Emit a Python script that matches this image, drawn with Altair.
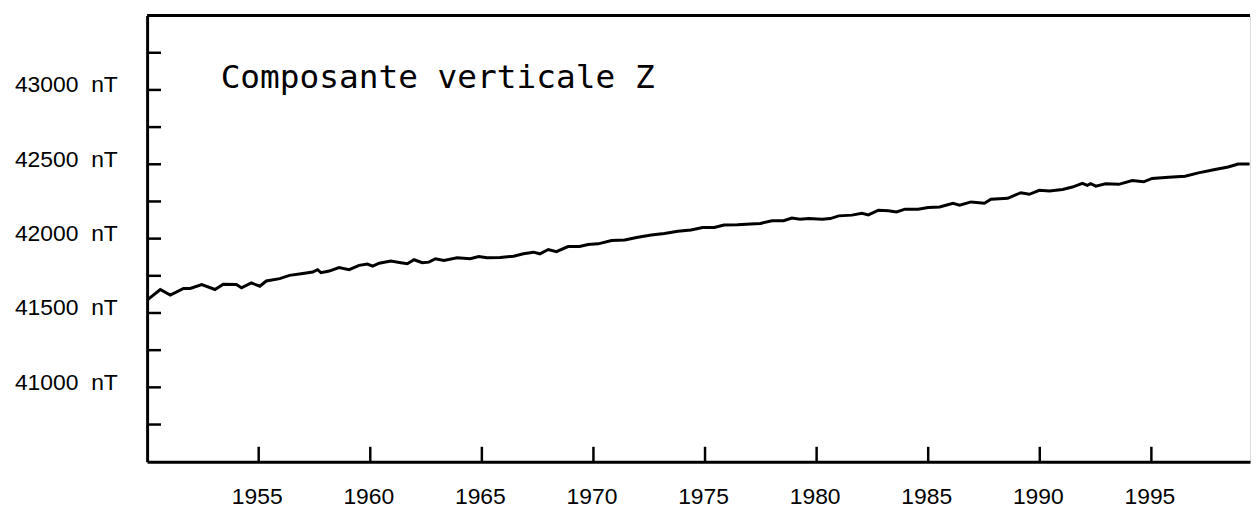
import altair as alt
import pandas as pd

# Series (year, Z in nT)
years = [1950.0, 1950.59, 1951.04, 1951.63, 1951.93, 1952.45, 1953.04, 1953.41, 1954.0, 1954.23,
         1954.67, 1955.05, 1955.34, 1955.94, 1956.38, 1956.98, 1957.42, 1957.64, 1957.79, 1958.16,
         1958.6, 1959.05, 1959.5, 1959.87, 1960.11, 1960.4, 1960.92, 1961.37, 1961.66, 1961.96,
         1962.33, 1962.63, 1962.92, 1963.3, 1963.89, 1964.48, 1964.86, 1965.23, 1965.82, 1966.42,
         1966.86, 1967.31, 1967.6, 1967.98, 1968.34, 1968.86, 1969.38, 1969.76, 1970.21, 1970.81,
         1971.4, 1971.99, 1972.59, 1973.18, 1973.78, 1974.37, 1974.89, 1975.41, 1975.85, 1976.45,
         1977.04, 1977.48, 1978.0, 1978.52, 1978.89, 1979.26, 1979.65, 1980.24, 1980.61, 1980.99,
         1981.58, 1982.03, 1982.32, 1982.77, 1983.21, 1983.58, 1983.96, 1984.55, 1985.0, 1985.51,
         1986.11, 1986.41, 1986.92, 1987.52, 1987.81, 1988.56, 1989.15, 1989.53, 1989.98, 1990.43,
         1991.02, 1991.46, 1991.91, 1992.13, 1992.28, 1992.51, 1992.95, 1993.54, 1994.14, 1994.66,
         1995.03, 1995.77, 1996.51, 1997.11, 1997.85, 1998.44, 1998.89, 1999.4]
z_values = [41587, 41658, 41620, 41665, 41665, 41691, 41658, 41693, 41691, 41669,
            41702, 41680, 41715, 41731, 41753, 41765, 41775, 41791, 41771, 41782,
            41805, 41791, 41820, 41829, 41815, 41835, 41849, 41838, 41831, 41858,
            41838, 41842, 41865, 41853, 41871, 41865, 41880, 41871, 41873, 41882,
            41898, 41909, 41898, 41927, 41913, 41947, 41947, 41961, 41965, 41987,
            41991, 42009, 42025, 42035, 42049, 42058, 42075, 42075, 42091, 42093,
            42098, 42102, 42120, 42120, 42138, 42131, 42135, 42131, 42135, 42153,
            42158, 42171, 42160, 42191, 42187, 42180, 42198, 42198, 42209, 42213,
            42238, 42225, 42247, 42238, 42265, 42271, 42309, 42298, 42325, 42320,
            42331, 42347, 42371, 42358, 42369, 42353, 42369, 42365, 42391, 42382,
            42405, 42413, 42420, 42442, 42465, 42482, 42502, 42502]

x_tick_years = [1955, 1960, 1965, 1970, 1975, 1980, 1985, 1990, 1995]
y_label_values = [41000, 41500, 42000, 42500, 43000]
y_tick_values = [40750, 41000, 41250, 41500, 41750, 42000, 42250, 42500, 42750, 43000, 43250]
title_text = "Composante verticale Z"

W, H = 1110, 449
x_dom = [1950, 1999.42]
y_dom = [40500, 43500]

df = pd.DataFrame({"year": years, "z": z_values})
xt = pd.DataFrame({"year": x_tick_years})
yt = pd.DataFrame({"z": y_tick_values})

xscale = alt.Scale(domain=x_dom, nice=False, zero=False)
yscale = alt.Scale(domain=y_dom, nice=False, zero=False)

FONT = "Liberation Sans"

line = alt.Chart(df).mark_line(color="black", strokeWidth=3, clip=True).encode(
    x=alt.X("year:Q", scale=xscale, title=None,
            axis=alt.Axis(values=x_tick_years, format="d", ticks=False, tickSize=0, grid=False,
                          domain=True, domainColor="black", domainWidth=3,
                          labelFont=FONT, labelFontSize=23, labelColor="black",
                          labelPadding=24, labelOffset=-2)),
    y=alt.Y("z:Q", scale=yscale, title=None,
            axis=alt.Axis(values=y_label_values, format="d", ticks=False, tickSize=0, grid=False,
                          domain=True, domainColor="black", domainWidth=3,
                          labelFont=FONT, labelFontSize=23, labelColor="black",
                          labelPadding=30, labelOffset=-5,
                          labelExpr="datum.label + '\u00a0\u00a0nT'")),
)

xticks = alt.Chart(xt).mark_rule(color="black", strokeWidth=2.5).encode(
    x=alt.X("year:Q", scale=xscale),
    y=alt.value(H),
    y2=alt.value(H - 15),
)

yticks = alt.Chart(yt).mark_rule(color="black", strokeWidth=2.5).encode(
    y=alt.Y("z:Q", scale=yscale),
    x=alt.value(0),
    x2=alt.value(14),
)

top_border = alt.Chart(pd.DataFrame({"a": [0]})).mark_rule(color="black", strokeWidth=3).encode(
    x=alt.value(0), x2=alt.value(W), y=alt.value(0)
)

title = alt.Chart(pd.DataFrame({"t": [title_text]})).mark_text(
    font="DejaVu Sans Mono", fontSize=33, color="black", align="left", baseline="alphabetic"
).encode(
    text="t:N", x=alt.value(74), y=alt.value(73)
)

chart = alt.layer(line, xticks, yticks, top_border, title).properties(
    width=W, height=H,
    autosize=alt.AutoSizeParams(type="none"),
    padding={"left": 140, "top": 6, "right": 2, "bottom": 48},
).configure_view(strokeWidth=0).configure(background="white")

chart.save("out.html", embed_options={"renderer": "svg", "actions": False})
